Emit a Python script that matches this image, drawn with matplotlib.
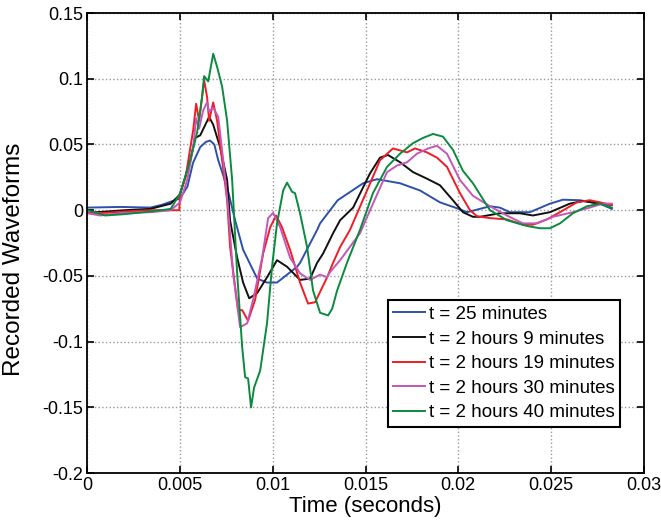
import numpy as np
import matplotlib
matplotlib.use("Agg")
import matplotlib.pyplot as plt
from matplotlib.ticker import FuncFormatter

plt.rcParams['font.family'] = ['Liberation Sans', 'DejaVu Sans']

t_25 = [0, 1.8, 3.4, 4.0, 5.0, 5.4, 5.7, 6.09, 6.4, 6.62, 6.85, 7.06, 7.54, 7.97, 8.40, 9.16,
        9.69, 10.23, 11.31, 11.47, 12.39, 12.55, 13.5, 14.87, 15.62, 16.86, 17.94, 19.01,
        19.93, 20.47, 21.71, 22.24, 22.78, 23.86, 24.94, 25.64, 26.55, 27.63, 28.28]
v_25 = [0.002, 0.0025, 0.002, 0.004, 0.009, 0.018, 0.036, 0.048, 0.052, 0.053, 0.050, 0.038,
        0.0175, -0.0076, -0.030, -0.052, -0.055, -0.055, -0.043, -0.040, -0.015, -0.010,
        0.0076, 0.0205, 0.0236, 0.0205, 0.015, 0.006, 0.0015, -0.0015, 0.003, 0.002,
        -0.0015, -0.0015, 0.005, 0.008, 0.0076, 0.005, 0.001]

t_129 = [0, 1.0, 2.0, 3.4, 4.5, 5.0, 5.55, 5.82, 6.09, 6.57, 6.79, 7.16, 7.54, 7.70, 8.08,
         8.40, 8.73, 9.16, 9.69, 10.23, 10.77, 11.47, 12.01, 12.39, 12.71, 13.25, 13.63,
         14.33, 15.24, 15.78, 16.21, 16.86, 17.56, 18.31, 19.01, 19.71, 20.25, 20.79, 21.17,
         22.24, 23.32, 24.02, 24.94, 26.01, 26.71, 27.63, 28.28]
v_129 = [-0.002, -0.001, 0.0, 0.001, 0.005, 0.012, 0.038, 0.055, 0.057, 0.071, 0.065, 0.048,
         0.023, -0.008, -0.036, -0.055, -0.067, -0.063, -0.051, -0.038, -0.043, -0.053,
         -0.052, -0.040, -0.033, -0.0175, -0.0076, 0.002, 0.028, 0.040, 0.042, 0.0365,
         0.029, 0.024, 0.019, 0.0076, -0.0015, -0.005, -0.005, -0.0023, -0.0023, -0.004,
         -0.0015, 0.005, 0.007, 0.005, 0.004]

t_139 = [0, 1.0, 2.0, 3.4, 4.96, 5.0, 5.3, 5.71, 5.87, 6.03, 6.30, 6.46, 6.57, 6.79, 7.00,
         7.27, 7.54, 7.70, 8.13, 8.35, 8.67, 9.05, 9.48, 9.86, 10.18, 10.50, 10.93, 11.47,
         11.90, 12.28, 12.93, 13.25, 13.63, 14.16, 15.08, 15.78, 16.48, 17.24, 17.67, 18.31,
         18.85, 19.39, 20.09, 20.63, 21.01, 21.71, 22.62, 23.48, 24.02, 24.78, 25.48, 26.39,
         27.09, 27.63, 28.28]
v_139 = [-0.002, -0.002, -0.001, 0.0, 0.0, 0.013, 0.025, 0.061, 0.081, 0.068, 0.099, 0.086,
         0.068, 0.082, 0.068, 0.038, 0.0076, -0.028, -0.076, -0.076, -0.084, -0.068, -0.033,
         -0.013, -0.004, -0.013, -0.030, -0.055, -0.071, -0.070, -0.051, -0.040, -0.028,
         -0.015, 0.015, 0.038, 0.047, 0.044, 0.047, 0.044, 0.040, 0.033, 0.013, 0.0,
         -0.0046, -0.006, -0.007, -0.011, -0.011, -0.007, -0.0015, 0.006, 0.0076, 0.006, 0.004]

t_150 = [0, 0.7, 2.0, 3.4, 4.5, 5.0, 5.39, 5.71, 5.87, 6.03, 6.25, 6.46, 6.57, 6.79, 7.06,
         7.33, 7.59, 7.86, 8.24, 8.62, 8.94, 9.43, 9.75, 10.02, 10.40, 10.93, 11.47, 12.01,
         12.55, 12.93, 13.09, 13.63, 14.70, 15.40, 16.16, 16.70, 17.24, 17.77, 18.37, 18.85,
         19.39, 20.09, 20.79, 21.71, 22.62, 23.48, 24.24, 25.10, 26.18, 27.09, 27.79, 28.28]
v_150 = [-0.0023, -0.004, -0.002, -0.0015, 0.0, 0.006, 0.023, 0.048, 0.070, 0.062, 0.076,
         0.082, 0.075, 0.078, 0.071, 0.038, 0.002, -0.048, -0.089, -0.086, -0.068, -0.036,
         -0.006, -0.002, -0.013, -0.036, -0.048, -0.053, -0.049, -0.051, -0.047, -0.038,
         -0.0175, 0.005, 0.029, 0.034, 0.0365, 0.043, 0.047, 0.049, 0.043, 0.023, 0.011,
         0.003, -0.004, -0.010, -0.010, -0.005, -0.0015, 0.002, 0.005, 0.005]

t_160 = [0, 0.97, 2.0, 3.4, 4.5, 5.01, 5.55, 5.92, 6.19, 6.30, 6.52, 6.79, 7.00, 7.27, 7.54,
         7.81, 8.08, 8.35, 8.51, 8.67, 8.83, 8.99, 9.32, 9.69, 9.96, 10.23, 10.56, 10.77,
         11.04, 11.20, 11.47, 11.85, 12.17, 12.55, 12.98, 13.20, 13.47, 14.00, 14.70, 15.40,
         16.16, 16.86, 17.56, 18.10, 18.64, 19.17, 19.71, 20.25, 20.79, 21.17, 21.71, 22.62,
         23.70, 24.40, 24.94, 25.48, 26.18, 26.93, 27.63, 28.28]
v_160 = [0.0, -0.004, -0.003, -0.001, 0.001, 0.013, 0.038, 0.059, 0.086, 0.102, 0.098, 0.119,
         0.109, 0.094, 0.068, 0.023, -0.048, -0.104, -0.127, -0.128, -0.150, -0.135, -0.122,
         -0.086, -0.043, -0.010, 0.015, 0.021, 0.014, 0.013, -0.0023, -0.028, -0.061, -0.078,
         -0.080, -0.075, -0.061, -0.040, -0.015, 0.013, 0.033, 0.043, 0.051, 0.055, 0.058,
         0.056, 0.046, 0.030, 0.0205, 0.012, 0.0, -0.0076, -0.012, -0.0137, -0.0137, -0.010,
         -0.0023, 0.003, 0.005, 0.002]

series = [
    (t_25, v_25, "#2d50a8", "t = 25 minutes"),
    (t_129, v_129, "#111111", "t = 2 hours 9 minutes"),
    (t_139, v_139, "#ee1d25", "t = 2 hours 19 minutes"),
    (t_150, v_150, "#c457b8", "t = 2 hours 30 minutes"),
    (t_160, v_160, "#0a8a3e", "t = 2 hours 40 minutes"),
]

fig = plt.figure(figsize=(6.61, 5.2), dpi=100)
ax = fig.add_axes([0.132, 0.090, 0.842, 0.885])

for t, v, c, lab in series:
    ax.plot(np.array(t) / 1000.0, v, color=c, lw=1.4, label=lab)

ax.set_xlim(0, 0.03)
ax.set_ylim(-0.2, 0.15)
ax.set_xticks(np.arange(0, 0.0301, 0.005))
ax.set_yticks(np.arange(-0.2, 0.1501, 0.05))
fmt = FuncFormatter(lambda x, p: "%g" % round(x, 4) if abs(x) > 1e-9 else "0")
ax.xaxis.set_major_formatter(fmt)
ax.yaxis.set_major_formatter(fmt)
ax.tick_params(direction='in', top=True, right=True, length=5, width=1.2,
               labelsize=13, pad=3)
ax.grid(True, linestyle=':', color='#999999', lw=1.0)
for s in ax.spines.values():
    s.set_linewidth(1.3)

ax.set_xlabel("Time (seconds)", fontsize=16, labelpad=1)
ax.set_ylabel("Recorded Waveforms", fontsize=17.5)
ax.yaxis.set_label_coords(-0.112, 0.465)

leg = ax.legend(loc='upper left', bbox_to_anchor=(0.54, 0.376), borderaxespad=0,
                fontsize=13.5, handlelength=1.7, handletextpad=0.2, labelspacing=0.4,
                borderpad=0.3, fancybox=False, framealpha=1)
leg.get_frame().set_edgecolor('black')
leg.get_frame().set_linewidth(1.5)

fig.savefig("out.png", dpi=100)
